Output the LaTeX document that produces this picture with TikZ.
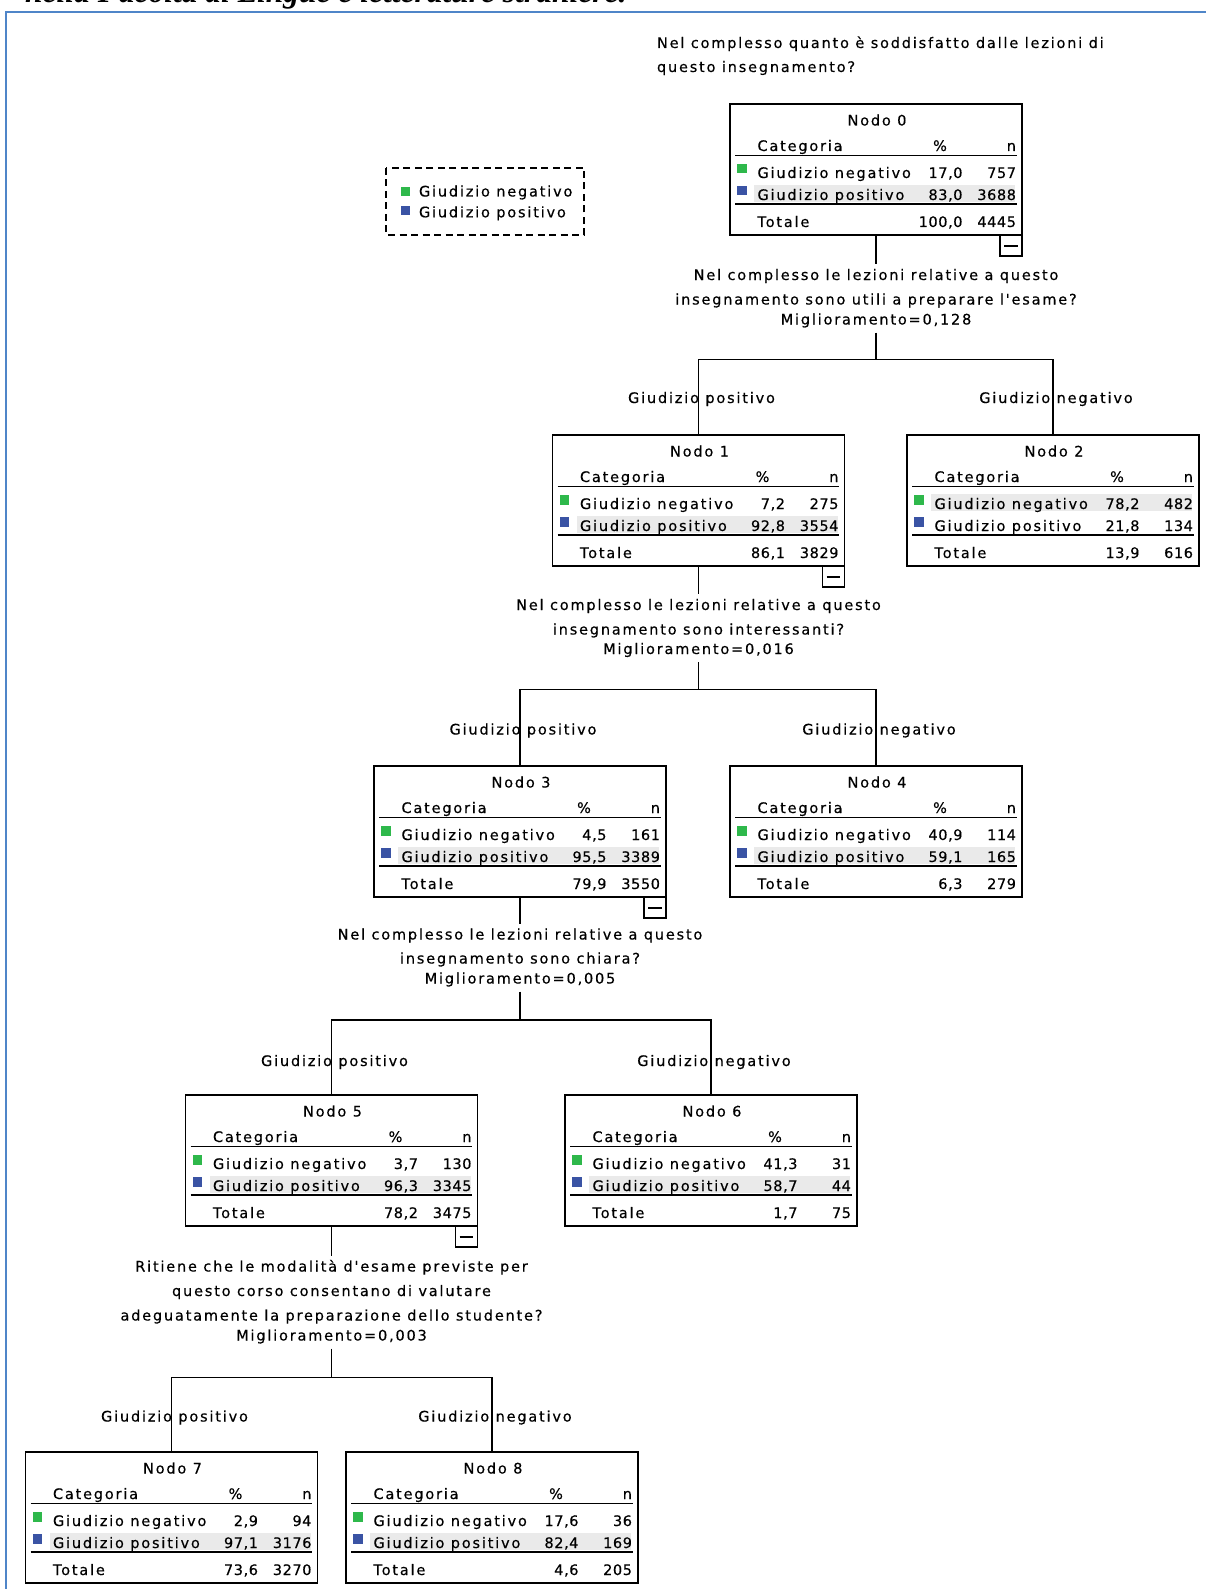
\documentclass[tikz,border=0pt]{standalone}
\usepackage{fontspec}
\newfontfamily\spssfont[LetterSpace=12.5,FakeBold=0.35]{DejaVu Sans}
\newfontfamily\spssnumfont[LetterSpace=4,FakeBold=0.35]{DejaVu Sans}
\newfontfamily\titlefont{Liberation Serif}
\newcommand\spsstext{\spssfont\fontsize{14.5pt}{20pt}\selectfont}
\newcommand\spssnumtext{\spssnumfont\fontsize{14.5pt}{20pt}\selectfont}
\definecolor{framblue}{RGB}{79,133,200}
\definecolor{sqgreen}{RGB}{46,184,75}
\definecolor{sqblue}{RGB}{58,83,164}
\definecolor{greyband}{RGB}{234,234,234}
\tikzset{
  conn/.style={draw=black, line width=1.3pt},
  boxline/.style={draw=black, line width=1.5pt},
  sepline/.style={draw=black, line width=1.6pt},
  spssbox/.style={boxline, fill=white, inner sep=0pt, outer sep=0pt, anchor=north west, minimum width=292pt, minimum height=131pt},
  txt/.style={inner sep=0pt, outer sep=0pt, font=\spsstext, text=black},
  spssnum/.style={inner sep=0pt, outer sep=0pt, font=\spssnumtext, text=black, anchor=base east},
  qline/.style={txt, inner ysep=5pt, text height=11pt, text depth=3pt, anchor=base},
  lbl/.style={txt, anchor=base},
}
% #1 number, #2 top-left "x,y", #3 top of grey band, #4..#9 values
\newcommand\SpssNode[9]{%
  \begin{scope}[shift={(#2)}]
    \node[spssbox] (nodo#1) at (0,0) {};
    \fill[greyband] (24,#3) rectangle (285,#3+17.6);
    \node[txt, anchor=base] (nodo#1t) at (147,21.5) {Nodo #1};
    \node[txt, anchor=base west] (nodo#1c) at (27.5,47) {Categoria};
    \node[txt, anchor=base] (nodo#1p) at (210,47) {\%};
    \node[txt, anchor=base east] (nodo#1n) at (286,47) {n};
    \draw[sepline] (5,51.5) -- (286.5,51.5);
    \fill[sqgreen] (7,60) rectangle (16.5,69.5);
    \node[txt, anchor=base west] (nodo#1a) at (27.5,74) {Giudizio negativo};
    \node[spssnum] (nodo#1ap) at (232.5,74) {#4};
    \node[spssnum] (nodo#1an) at (286,74) {#5};
    \fill[sqblue] (7,82) rectangle (16.5,91.5);
    \node[txt, anchor=base west] (nodo#1b) at (27.5,96) {Giudizio positivo};
    \node[spssnum] (nodo#1bp) at (232.5,96) {#6};
    \node[spssnum] (nodo#1bn) at (286,96) {#7};
    \draw[sepline] (5,100) -- (286.5,100);
    \node[txt, anchor=base west] (nodo#1s) at (27.5,123) {Totale};
    \node[spssnum] (nodo#1sp) at (232.5,123) {#8};
    \node[spssnum] (nodo#1sn) at (286,123) {#9};
  \end{scope}}
\newcommand\SpssCollapse[1]{%
  \draw[boxline] ([xshift=-22pt]#1.south east) rectangle ([yshift=-21pt]#1.south east);
  \draw[line width=1.2pt] ([xshift=-18pt,yshift=-11pt]#1.south east) -- ([xshift=-4.5pt,yshift=-11pt]#1.south east);}
\begin{document}
\begin{tikzpicture}[x=1pt,y=-1pt]
\useasboundingbox (0,0) rectangle (1206,1589);
\fill[white] (0,0) rectangle (1206,1589);
% clipped heading
\begin{scope}
  \clip (0,0) rectangle (1206,1589);
  \node[anchor=base west, inner sep=0pt, font=\titlefont\bfseries\itshape\fontsize{31.5pt}{36pt}\selectfont] (heading) at (25,3) {nella Facoltà di Lingue e letterature straniere.};
\end{scope}
% frame
\draw[framblue, line width=2pt] (6,1589) -- (6,12) -- (1206,12);

% legend
\draw[black, line width=1.5pt, dash pattern=on 7pt off 4.5pt] (386,168) rectangle (584,235);
\fill[sqgreen] (400.5,187) rectangle (410,196);
\node[txt, anchor=base west] (legneg) at (419,196.5) {Giudizio negativo};
\fill[sqblue] (400.5,206.5) rectangle (410,215.5);
\node[txt, anchor=base west] (legpos) at (419,217.3) {Giudizio positivo};

% root question
\node[txt, anchor=base west] (q0a) at (657,48) {Nel complesso quanto è soddisfatto dalle lezioni di};
\node[txt, anchor=base west] (q0b) at (657,72) {questo insegnamento?};

% nodes
\SpssNode{0}{730,104}{80.7}{17,0}{757}{83,0}{3688}{100,0}{4445}
\SpssNode{1}{552.5,435}{80.7}{7,2}{275}{92,8}{3554}{86,1}{3829}
\SpssNode{2}{907,435}{58.7}{78,2}{482}{21,8}{134}{13,9}{616}
\SpssNode{3}{374,766}{80.7}{4,5}{161}{95,5}{3389}{79,9}{3550}
\SpssNode{4}{730,766}{80.7}{40,9}{114}{59,1}{165}{6,3}{279}
\SpssNode{5}{185.5,1095}{80.7}{3,7}{130}{96,3}{3345}{78,2}{3475}
\SpssNode{6}{565,1095}{80.7}{41,3}{31}{58,7}{44}{1,7}{75}
\SpssNode{7}{25.5,1452}{80.7}{2,9}{94}{97,1}{3176}{73,6}{3270}
\SpssNode{8}{346,1452}{80.7}{17,6}{36}{82,4}{169}{4,6}{205}

\SpssCollapse{nodo0}
\SpssCollapse{nodo1}
\SpssCollapse{nodo3}
\SpssCollapse{nodo5}

% level 1
\node[qline] (q1a) at (876,280) {Nel complesso le lezioni relative a questo};
\node[qline] (q1b) at (876,304.5) {insegnamento sono utili a preparare l'esame?};
\node[qline] (q1c) at (876,324.5) {Miglioramento=0,128};
\coordinate (s1) at (876,359.5);
\draw[conn] (nodo0.south) -- (q1a.north);
\draw[conn] (q1c.south) -- (s1);
\draw[conn] (nodo1.north) -- (nodo1.north |- s1) -- (nodo2.north |- s1) -- (nodo2.north);
\node[lbl] (l1a) at (701.5,403) {Giudizio positivo};
\node[lbl] (l1b) at (1056,403) {Giudizio negativo};

% level 2
\node[qline] (q2a) at (698.5,610) {Nel complesso le lezioni relative a questo};
\node[qline] (q2b) at (698.5,634.5) {insegnamento sono interessanti?};
\node[qline] (q2c) at (698.5,654) {Miglioramento=0,016};
\coordinate (s2) at (698.5,689.5);
\draw[conn] (nodo1.south) -- (q2a.north);
\draw[conn] (q2c.south) -- (s2);
\draw[conn] (nodo3.north) -- (nodo3.north |- s2) -- (nodo4.north |- s2) -- (nodo4.north);
\node[lbl] (l2a) at (523,734.5) {Giudizio positivo};
\node[lbl] (l2b) at (879,734.5) {Giudizio negativo};

% level 3
\node[qline] (q3a) at (520,939.5) {Nel complesso le lezioni relative a questo};
\node[qline] (q3b) at (520,963.5) {insegnamento sono chiara?};
\node[qline] (q3c) at (520,983.5) {Miglioramento=0,005};
\coordinate (s3) at (520,1020);
\draw[conn] (nodo3.south) -- (q3a.north);
\draw[conn] (q3c.south) -- (s3);
\draw[conn] (nodo5.north) -- (nodo5.north |- s3) -- (nodo6.north |- s3) -- (nodo6.north);
\node[lbl] (l3a) at (334.5,1066) {Giudizio positivo};
\node[lbl] (l3b) at (714,1066) {Giudizio negativo};

% level 4
\node[qline] (q4a) at (331.5,1271.5) {Ritiene che le modalità d'esame previste per};
\node[qline] (q4b) at (331.5,1296) {questo corso consentano di valutare};
\node[qline] (q4c) at (331.5,1320.5) {adeguatamente la preparazione dello studente?};
\node[qline] (q4d) at (331.5,1340.5) {Miglioramento=0,003};
\coordinate (s4) at (331.5,1377.3);
\draw[conn] (nodo5.south) -- (q4a.north);
\draw[conn] (q4d.south) -- (s4);
\draw[conn] (nodo7.north) -- (nodo7.north |- s4) -- (nodo8.north |- s4) -- (nodo8.north);
\node[lbl] (l4a) at (174.5,1421.5) {Giudizio positivo};
\node[lbl] (l4b) at (495,1421.5) {Giudizio negativo};
\end{tikzpicture}
\end{document}
